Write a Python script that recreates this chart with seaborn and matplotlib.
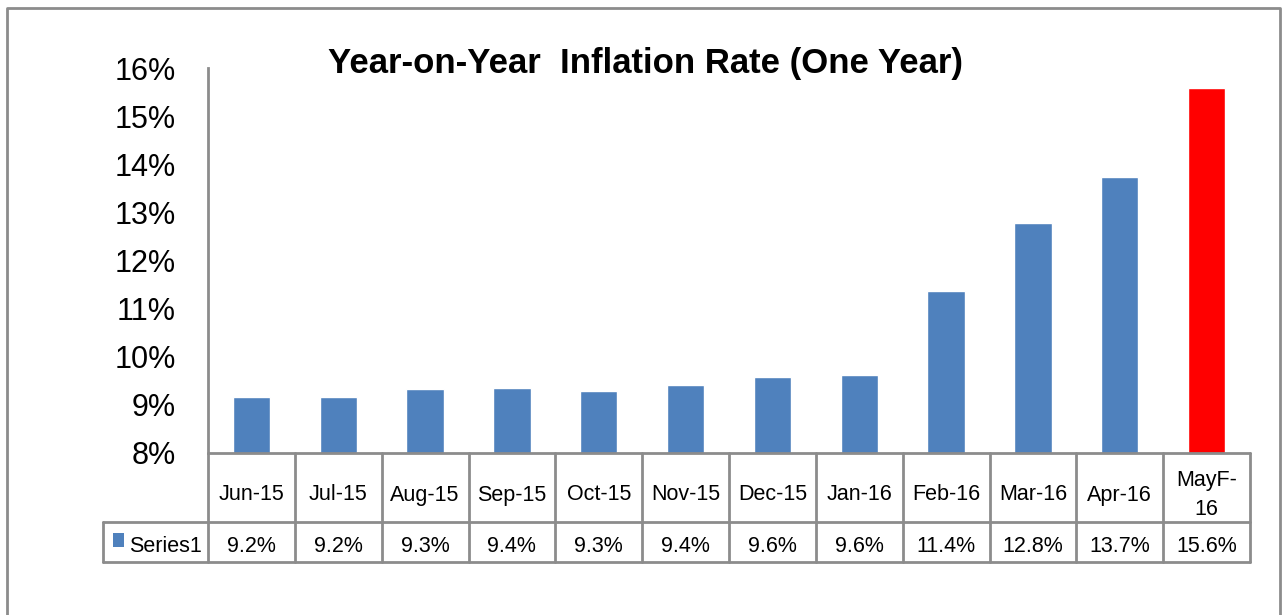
import matplotlib
matplotlib.use("Agg")
import matplotlib.pyplot as plt
import matplotlib.transforms as mtransforms
from matplotlib.patches import Rectangle
from matplotlib.lines import Line2D
import seaborn as sns
import pandas as pd

# ---- data ----
categories = ["Jun-15", "Jul-15", "Aug-15", "Sep-15", "Oct-15", "Nov-15",
              "Dec-15", "Jan-16", "Feb-16", "Mar-16", "Apr-16", "MayF-\n16"]
values = [9.16, 9.16, 9.34, 9.36, 9.29, 9.41, 9.57, 9.62, 11.36, 12.77, 13.74, 15.59]
table_labels = ["9.2%", "9.2%", "9.3%", "9.4%", "9.3%", "9.4%",
                "9.6%", "9.6%", "11.4%", "12.8%", "13.7%", "15.6%"]
bar_colors = ["#4F81BD"] * 11 + ["#FF0000"]
series_name = "Series1"
title = "Year-on-Year  Inflation Rate (One Year)"
y_ticks = [8, 9, 10, 11, 12, 13, 14, 15, 16]

sns.set_theme(style="white")
FONT = ["Liberation Sans", "DejaVu Sans"]
plt.rcParams["font.family"] = FONT

W, H = 1282, 615
fig = plt.figure(figsize=(W / 100, H / 100), dpi=100)
fig.patch.set_facecolor("white")

# axes placement (pixels)
ax_l, ax_r, ax_t, ax_b = 208, 1250, 68, 453
ax = fig.add_axes([ax_l / W, 1 - ax_b / H, (ax_r - ax_l) / W, (ax_b - ax_t) / H])

df = pd.DataFrame({"cat": categories, "val": values})
sns.barplot(data=df, x="cat", y="val", hue="cat", palette=bar_colors,
            legend=False, width=0.43, saturation=1, ax=ax, zorder=2)

ax.set_xlim(-0.5, len(categories) - 0.5)
ax.set_ylim(8, 16)
ax.set_yticks(y_ticks)
ax.set_yticklabels([f"{t}%" for t in y_ticks], fontsize=22, color="black")
ax.tick_params(axis="y", length=0, pad=23)
ax.set_xticks([])
ax.set_xlabel("")
ax.set_ylabel("")
for s in ["top", "right", "bottom"]:
    ax.spines[s].set_visible(False)
ax.spines["left"].set_color("#8C8C8C")
ax.spines["left"].set_linewidth(2)
ax.grid(False)

# ---- data table below the axes ----
ax_h = ax_b - ax_t
ax_w = ax_r - ax_l
def yf(py):  # pixel y -> axes fraction
    return (ax_b - py) / ax_h
def xf(px):
    return (px - ax_l) / ax_w

blend = mtransforms.blended_transform_factory(ax.transData, ax.transAxes)
n = len(categories)
grid_c = "#8C8C8C"
lw = 2
row_top, row_mid, row_bot = yf(453), yf(522), yf(562)

# horizontal lines
ax.add_line(Line2D([0, 1], [row_top, row_top], transform=ax.transAxes,
                   color=grid_c, lw=lw, clip_on=False, zorder=3))
for yy in (row_mid, row_bot):
    ax.add_line(Line2D([xf(103), 1], [yy, yy], transform=ax.transAxes,
                       color=grid_c, lw=lw, clip_on=False))
# vertical lines
for i in range(n + 1):
    ax.add_line(Line2D([i - 0.5, i - 0.5], [row_top, row_bot], transform=blend,
                       color=grid_c, lw=lw, clip_on=False))
ax.add_line(Line2D([xf(103), xf(103)], [row_mid, row_bot], transform=ax.transAxes,
                   color=grid_c, lw=lw, clip_on=False))

# texts
for i, (c, lab) in enumerate(zip(categories, table_labels)):
    ax.text(i, yf(495), c, transform=blend, ha="center", va="center",
            fontsize=15.5, color="black", linespacing=1.55)
    ax.text(i, yf(547), lab, transform=blend, ha="center", va="center",
            fontsize=15.5, color="black")

# legend key and series name
ax.add_patch(Rectangle((xf(113), yf(547)), 11 / ax_w, 14 / ax_h,
                       transform=ax.transAxes, facecolor=bar_colors[0],
                       edgecolor="none", clip_on=False))
ax.text(xf(129), yf(547), series_name, transform=ax.transAxes, ha="left",
        va="center", fontsize=15.5, color="black")

# title
fig.text(646 / W, 1 - 63 / H, title, ha="center", va="center",
         fontsize=25, fontweight="bold", color="black")

# outer frame (left, top, right)
fx0, fx1, fy0 = 7 / W, 1280 / W, 1 - 8 / H
fig.add_artist(Line2D([fx0, fx0, fx1, fx1], [-0.05, fy0, fy0, -0.05],
                      transform=fig.transFigure, color="#8C8C8C", lw=2))

fig.savefig("out.png", dpi=100, facecolor="white")
